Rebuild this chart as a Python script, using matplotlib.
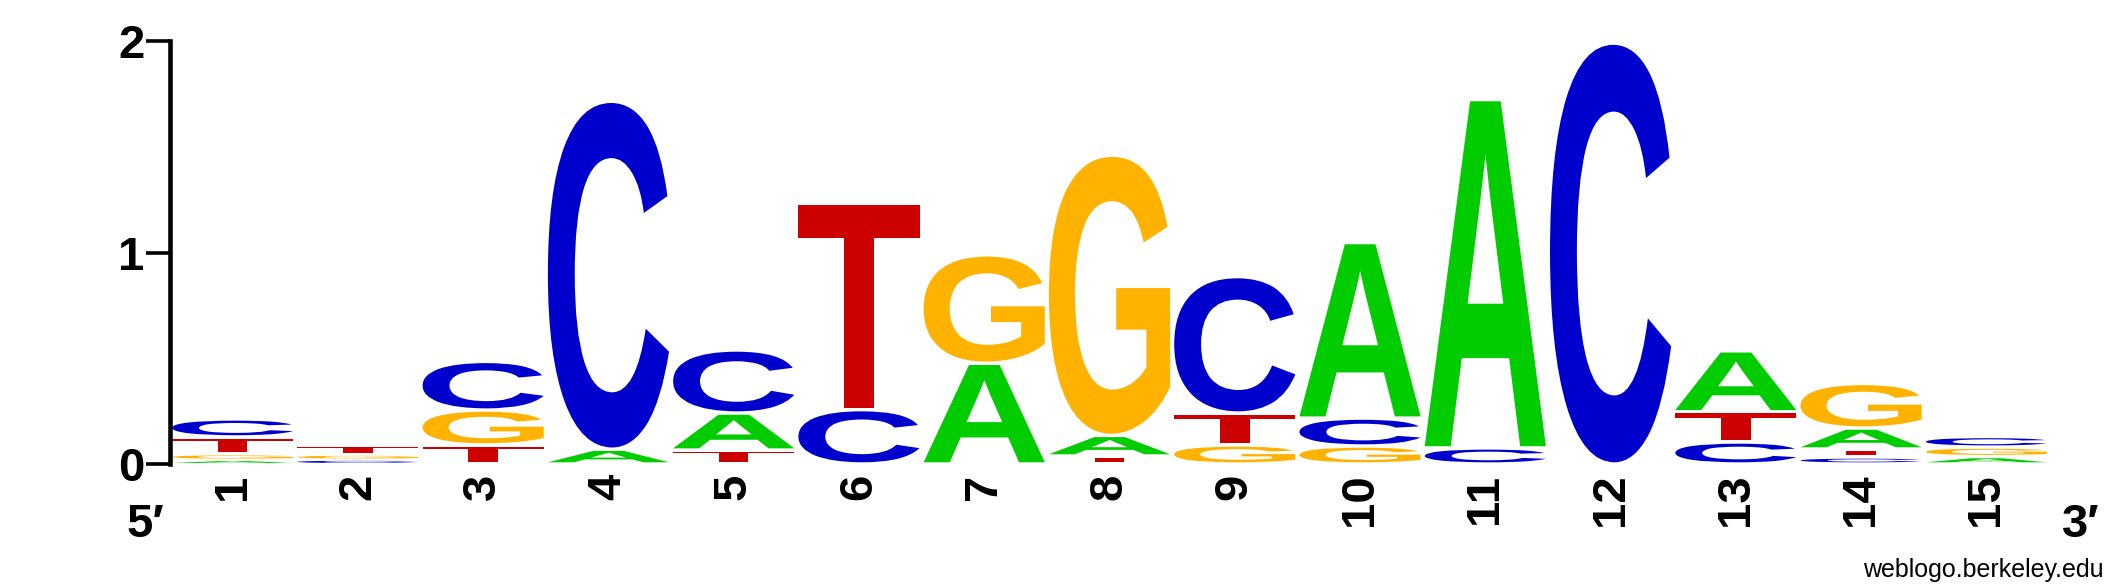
import matplotlib
matplotlib.use("Agg")
import matplotlib.pyplot as plt
from matplotlib.textpath import TextPath
from matplotlib.patches import PathPatch
from matplotlib.font_manager import FontProperties
from matplotlib.transforms import Affine2D

# Sequence logo data (bits), one value per position 1..15
positions = list(range(1, 16))
height_A = [0.018, 0.000, 0.000, 0.070, 0.175, 0.000, 0.476, 0.097, 0.000, 0.830, 1.647, 0.000, 0.288, 0.099, 0.035]
height_C = [0.085, 0.020, 0.230, 1.645, 0.298, 0.257, 0.000, 0.000, 0.645, 0.132, 0.076, 1.990, 0.104, 0.033, 0.050]
height_G = [0.030, 0.025, 0.165, 0.000, 0.000, 0.000, 0.513, 1.325, 0.090, 0.085, 0.000, 0.000, 0.000, 0.211, 0.045]
height_T = [0.080, 0.045, 0.090, 0.000, 0.066, 0.975, 0.000, 0.038, 0.151, 0.000, 0.000, 0.000, 0.143, 0.038, 0.000]
y_ticks = [0, 1, 2]

colors = {"A": "#00cc00", "C": "#0000cc", "G": "#ffb300", "T": "#cc0000"}
letter_font = FontProperties(family="Liberation Sans", weight="bold")
label_font = ["Liberation Sans", "DejaVu Sans"]


def draw_letter(ax, letter, x, y0, h, width=0.967, gap=0.016):
    # glyph stretched to fill its box (minus a small gap) in data units
    g = min(gap, h * 0.5)
    gh = h - g
    tp = TextPath((0, 0), letter, size=1, prop=letter_font)
    bb = tp.get_extents()
    tr = Affine2D().translate(-bb.x0, -bb.y0).scale(width / bb.width, gh / bb.height).translate(x - width / 2, y0 + g / 2)
    ax.add_patch(PathPatch(tr.transform_path(tp), facecolor=colors[letter], edgecolor="none", lw=0))


fig = plt.figure(figsize=(21.25, 5.88), dpi=100)
ax = fig.add_axes([170 / 2125, 124 / 588, (2049 - 170) / 2125, (464 - 41) / 588])

# Stack letters, smallest at the bottom
for i, pos in enumerate(positions):
    stack = [("A", height_A[i]), ("C", height_C[i]), ("G", height_G[i]), ("T", height_T[i])]
    stack = sorted([s for s in stack if s[1] > 0], key=lambda s: s[1])
    y = 0.0
    for letter, h in stack:
        draw_letter(ax, letter, pos, y, h)
        y += h

ax.set_xlim(0.5, 15.5)
ax.set_ylim(0, 2)
for side in ["top", "right", "bottom"]:
    ax.spines[side].set_visible(False)
ax.spines["left"].set_linewidth(3.3)
ax.spines["left"].set_bounds(0, 2)
ax.spines["left"].set_capstyle("projecting")

ax.set_yticks(y_ticks)
ax.set_yticklabels([str(t) for t in y_ticks], fontsize=34, fontweight="bold", family=label_font)
ax.tick_params(axis="y", length=17, width=2.6, pad=1.5)

ax.set_xticks(positions)
ax.set_xticklabels([str(p) for p in positions], fontsize=34, fontweight="bold",
                   family=label_font, rotation=90)
ax.tick_params(axis="x", length=0, pad=7)

fig.text(145 / 2125, 1 - 537 / 588, "5\u2032", fontsize=34, fontweight="bold",
         family=label_font, ha="center", va="baseline")
fig.text(2081 / 2125, 1 - 537 / 588, "3\u2032", fontsize=34, fontweight="bold",
         family=label_font, ha="center", va="baseline")
fig.text(2104 / 2125, 1 - 577 / 588, "weblogo.berkeley.edu", fontsize=18,
         family=label_font, ha="right", va="baseline")

fig.savefig("out.png", dpi=100)
